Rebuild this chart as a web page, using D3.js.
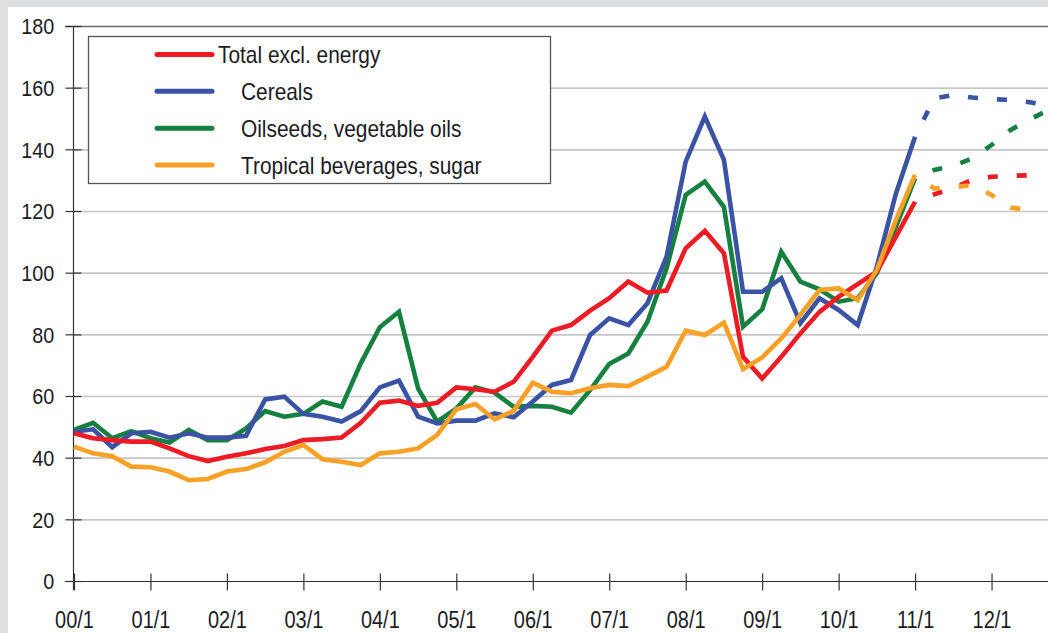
<!DOCTYPE html>
<html>
<head>
<meta charset="utf-8">
<script src="https://cdn.jsdelivr.net/npm/d3@7"></script>
<style>
  body { margin: 0; padding: 0; background: #dddfe0; }
  svg { display: block; }
  text { font-family: "Liberation Sans", Arial, sans-serif; fill: #1b1b24; }
</style>
</head>
<body>
<div id="chart"></div>
<script>
// x = quarter index, 0 = 00/1
var yearLabels = ["00/1", "01/1", "02/1", "03/1", "04/1", "05/1", "06/1", "07/1", "08/1", "09/1", "10/1", "11/1", "12/1"];
var yTicks = [0, 20, 40, 60, 80, 100, 120, 140, 160, 180];

var seriesNames = ["Total excl. energy", "Cereals", "Oilseeds, vegetable oils", "Tropical beverages, sugar"];
var seriesColors = ["#ed1c24", "#3a53a4", "#15803f", "#f9a126"];

// actual values 00/1 .. 11/1
var totalExclEnergy = [47.9, 46.3, 45.7, 45.2, 45.2, 43.0, 40.5, 38.9, 40.3, 41.4,
    42.8, 43.8, 45.7, 46.0, 46.5, 51.3, 57.8, 58.5, 56.8, 57.8,
    62.8, 62.2, 61.4, 64.6, 72.7, 81.2, 83.0, 87.7, 91.7, 97.1,
    93.5, 94.2, 107.9, 113.6, 106.3, 72.7, 65.7, 72.7, 80.3, 87.3,
    92.2, 96.3, 100.3, 111.7, 123.0];
var cereals = [48.4, 49.2, 43.4, 47.9, 48.4, 46.5, 47.9, 46.5, 46.5, 47.1,
    58.9, 59.8, 54.2, 53.3, 51.7, 55.1, 62.8, 65.0, 53.3, 51.1,
    52.0, 52.0, 54.4, 53.1, 58.2, 63.6, 65.2, 79.8, 85.2, 83.0,
    90.1, 105.2, 136.0, 150.6, 136.6, 93.8, 93.8, 98.2, 83.6, 91.7,
    87.9, 83.0, 102.0, 125.7, 144.1];
var oilseeds = [49.0, 51.3, 46.3, 48.6, 46.3, 44.9, 49.0, 45.7, 45.7, 49.5,
    55.1, 53.3, 54.2, 58.2, 56.5, 70.6, 82.3, 87.3, 62.5, 51.7,
    55.9, 62.8, 61.1, 56.5, 56.8, 56.5, 54.6, 61.9, 70.4, 73.8,
    84.1, 101.4, 125.2, 129.5, 121.3, 82.5, 88.1, 106.8, 97.1, 94.6,
    90.6, 91.7, 99.8, 114.9, 130.6];
var tropical = [43.6, 41.4, 40.5, 37.1, 36.9, 35.5, 32.7, 33.1, 35.5, 36.3,
    38.5, 41.9, 44.1, 39.5, 38.7, 37.6, 41.4, 41.9, 43.0, 47.4,
    55.7, 57.4, 52.4, 55.2, 64.3, 61.4, 60.9, 62.5, 63.6, 63.2,
    66.3, 69.5, 81.2, 79.8, 83.8, 68.7, 72.5, 78.7, 86.3, 94.4,
    94.9, 91.1, 100.9, 117.1, 131.7];

// forecasts, starting at 11/1
var forecastStart = 44;
var totalForecast = [123.0, 125.4, 127.4, 130.1, 131.1, 131.4, 131.6];
var cerealsForecast = [144.1, 156.5, 157.6, 156.8, 156.3, 156.0, 155.3, 154.1];
var oilseedsForecast = [130.6, 133.3, 134.6, 137.1, 141.4, 146.3, 149.7, 152.8];
var tropicalForecast = [131.7, 127.3, 127.7, 128.4, 125.2, 121.1, 120.3];

var actual = [totalExclEnergy, cereals, oilseeds, tropical];
var forecast = [totalForecast, cerealsForecast, oilseedsForecast, tropicalForecast];

var w = 1048;
var h = 633;

var svg = d3.select("#chart").append("svg").attr("width", w).attr("height", h);

// gray frame + white panel
svg.append("rect").attr("x", 0).attr("y", 0).attr("width", w).attr("height", h).attr("fill", "#dddfe0");
svg.append("rect").attr("x", 8).attr("y", 7).attr("width", w - 8).attr("height", h - 7).attr("fill", "#ffffff");

var x = d3.scaleLinear().domain([0, 52]).range([74, 1068]);
var y = d3.scaleLinear().domain([0, 180]).range([581, 26]);

// gridlines
svg.append("g")
    .selectAll("line")
    .data(yTicks.filter(function(d) { return d > 0 && d < 180; }))
    .enter()
    .append("line")
    .attr("x1", 74)
    .attr("x2", w)
    .attr("y1", function(d) { return y(d) + 0.5; })
    .attr("y2", function(d) { return y(d) + 0.5; })
    .attr("stroke", "#c6c6c6")
    .attr("stroke-width", 1.6);

// top border line
svg.append("line")
    .attr("x1", 65).attr("x2", w)
    .attr("y1", y(180) + 0.5).attr("y2", y(180) + 0.5)
    .attr("stroke", "#6e6e6e").attr("stroke-width", 1.4);

// y axis
var yAxis = svg.append("g")
    .attr("transform", "translate(73.5,0)")
    .call(d3.axisLeft(y).tickValues(yTicks).tickSize(8).tickSizeOuter(0));
yAxis.select(".domain").attr("stroke", "#333").attr("stroke-width", 1.2)
    .attr("d", "M0," + y(180) + "V" + (y(0) + 9));
yAxis.selectAll(".tick line").attr("x1", -8).attr("x2", 8).attr("stroke", "#333").attr("stroke-width", 1.2);
yAxis.selectAll(".tick text")
    .attr("x", -21.5)
    .attr("dy", "0.36em")
    .attr("font-size", "22px")
    .attr("transform", "scale(0.9,1)")
    .style("fill", "#1b1b24");

// x axis
var xAxis = svg.append("g")
    .attr("transform", "translate(0," + (y(0) + 0.5) + ")")
    .call(d3.axisBottom(x)
        .tickValues(d3.range(yearLabels.length).map(function(i) { return i * 4; }))
        .tickFormat(function(d) { return yearLabels[d / 4]; })
        .tickSize(8)
        .tickSizeOuter(0));
xAxis.select(".domain").attr("stroke", "#333").attr("stroke-width", 1.2)
    .attr("d", "M65,0H" + w);
xAxis.selectAll(".tick line").attr("y1", -8).attr("y2", 9).attr("stroke", "#333").attr("stroke-width", 1.2);
xAxis.selectAll(".tick text")
    .attr("y", 46.5)
    .attr("dy", "0")
    .attr("font-size", "23.5px")
    .attr("transform", "scale(0.85,1)")
    .style("fill", "#1b1b24");

// lines
var line = d3.line()
    .x(function(d) { return x(d[0]); })
    .y(function(d) { return y(d[1]); });

var plot = svg.append("g");

// forecasts drawn first (dashed)
forecast.forEach(function(vals, k) {
    var pts = vals.map(function(v, i) { return [forecastStart + i, v]; });
    plot.append("path")
        .attr("d", line(pts))
        .attr("fill", "none")
        .attr("stroke", seriesColors[k])
        .attr("stroke-width", 4.6)
        .attr("stroke-dasharray", "10,19")
        .attr("stroke-dashoffset", 10);
});

// actual series: oilseeds and cereals under, total and tropical on top
[2, 1, 0, 3].forEach(function(k) {
    var pts = actual[k].map(function(v, i) { return [i, v]; });
    plot.append("path")
        .attr("d", line(pts))
        .attr("fill", "none")
        .attr("stroke", seriesColors[k])
        .attr("stroke-width", 4.6)
        .attr("stroke-linejoin", "miter");
});

// legend
var legend = svg.append("g");
legend.append("rect")
    .attr("x", 88.5).attr("y", 36.5)
    .attr("width", 462).attr("height", 147)
    .attr("fill", "#fff")
    .attr("stroke", "#555").attr("stroke-width", 1.3);

var legendY = [54.5, 91.3, 128.3, 165];
var legendTextX = [218, 241, 241, 241];

seriesNames.forEach(function(name, k) {
    legend.append("line")
        .attr("x1", 157).attr("x2", 212)
        .attr("y1", legendY[k]).attr("y2", legendY[k])
        .attr("stroke", seriesColors[k])
        .attr("stroke-width", 5)
        .attr("stroke-linecap", "round");
    legend.append("text")
        .attr("transform", "translate(" + legendTextX[k] + "," + (legendY[k] + 8.5) + ") scale(0.87,1)")
        .attr("font-size", "24px")
        .text(name);
});
</script>
</body>
</html>
